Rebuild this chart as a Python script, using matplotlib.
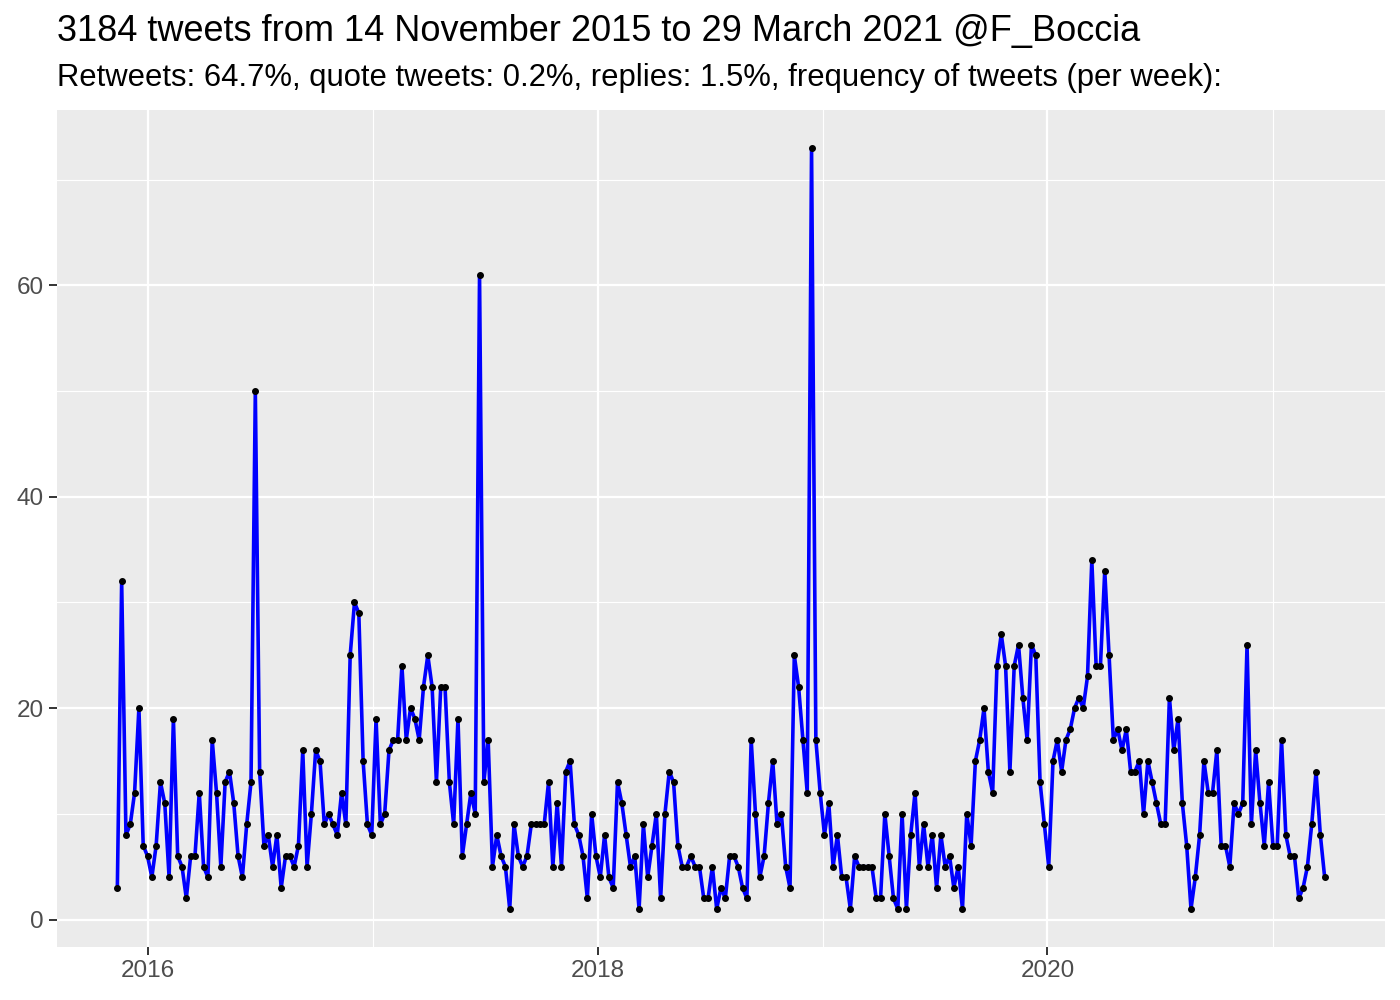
import matplotlib
matplotlib.use("Agg")
import matplotlib.pyplot as plt
import matplotlib.dates as mdates
from matplotlib.ticker import MultipleLocator
import pandas as pd

plt.rcParams['font.family'] = ['Liberation Sans', 'DejaVu Sans']

# weekly tweet counts
counts = [
    3, 32, 8, 9, 12, 20, 7, 6, 4, 7, 13, 11, 4, 19, 6, 5, 2, 6, 6, 12, 5, 4, 17, 12, 5, 13, 14, 11,
    6, 4, 9, 13, 50, 14, 7, 8, 5, 8, 3, 6, 6, 5, 7, 16, 5, 10, 16, 15, 9, 10, 9, 8, 12, 9, 25, 30, 29,
    15, 9, 8, 19, 9, 10, 16, 17, 17, 24, 17, 20, 19, 17, 22, 25, 22, 13, 22, 22, 13, 9, 19, 6, 9, 12, 10,
    61, 13, 17, 5, 8, 6, 5, 1, 9, 6, 5, 6, 9, 9, 9, 9, 13, 5, 11, 5, 14, 15, 9, 8, 6, 2, 10, 6,
    4, 8, 4, 3, 13, 11, 8, 5, 6, 1, 9, 4, 7, 10, 2, 10, 14, 13, 7, 5, 5, 6, 5, 5, 2, 2, 5, 1,
    3, 2, 6, 6, 5, 3, 2, 17, 10, 4, 6, 11, 15, 9, 10, 5, 3, 25, 22, 17, 12, 73, 17, 12, 8, 11,
    5, 8, 4, 4, 1, 6, 5, 5, 5, 5, 2, 2, 10, 6, 2, 1, 10, 1, 8, 12, 5, 9, 5, 8, 3, 8, 5, 6, 3,
    5, 1, 10, 7, 15, 17, 20, 14, 12, 24, 27, 24, 14, 24, 26, 21, 17, 26, 25, 13, 9, 5, 15, 17, 14, 17, 18, 20,
    21, 20, 23, 34, 24, 24, 33, 25, 17, 18, 16, 18, 14, 14, 15, 10, 15, 13, 11, 9, 9, 21, 16, 19, 11, 7, 1, 4,
    8, 15, 12, 12, 16, 7, 7, 5, 11, 10, 11, 26, 9, 16, 11, 7, 13, 7, 7, 17, 8, 6, 6, 2, 3, 5, 9, 14, 8, 4,
]
weeks = pd.date_range("2015-11-13", periods=len(counts), freq="7D")

title = "3184 tweets from 14 November 2015 to 29 March 2021 @F_Boccia"
subtitle = "Retweets: 64.7%, quote tweets: 0.2%, replies: 1.5%, frequency of tweets (per week):"

fig = plt.figure(figsize=(14, 10), dpi=100)
ax = fig.add_axes([0.0407, 0.053, 0.9486, 0.837])
ax.set_facecolor("#EBEBEB")

ax.plot(weeks, counts, color="#0000FF", linewidth=2.6, zorder=3)
ax.scatter(weeks, counts, s=16, color="black", zorder=4)

# ggplot-style 5% expansion
x0 = mdates.date2num(weeks[0])
x1 = mdates.date2num(weeks[-1])
pad = (x1 - x0) * 0.05
ax.set_xlim(x0 - pad, x1 + pad)
ymin, ymax = min(counts), max(counts)
ypad = (ymax - ymin) * 0.05
ax.set_ylim(ymin - ypad, ymax + ypad)

ax.xaxis.set_major_locator(mdates.YearLocator(2))
ax.xaxis.set_minor_locator(mdates.YearLocator(1))
ax.xaxis.set_major_formatter(mdates.DateFormatter("%Y"))
ax.yaxis.set_major_locator(MultipleLocator(20))
ax.yaxis.set_minor_locator(MultipleLocator(10))

ax.grid(which="major", color="white", linewidth=1.6)
ax.grid(which="minor", color="white", linewidth=0.8)
ax.set_axisbelow(True)
for s in ax.spines.values():
    s.set_visible(False)
ax.tick_params(which="major", length=5.5, width=1.4, color="#333333",
               labelsize=17.5, labelcolor="#4D4D4D", pad=4)
ax.tick_params(which="minor", length=0)

fig.text(0.0407, 0.968, title, fontsize=26, va="center", ha="left", color="black")
fig.text(0.0407, 0.922, subtitle, fontsize=22.3, va="center", ha="left", color="black")

fig.savefig("out.png", dpi=100)
